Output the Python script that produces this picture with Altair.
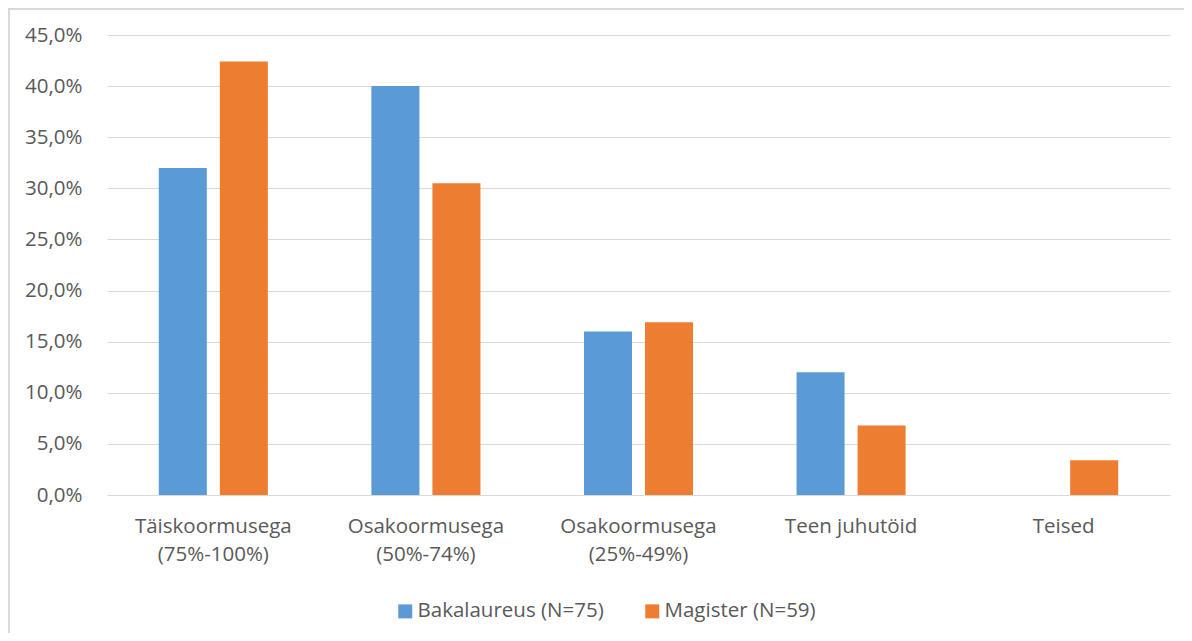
import altair as alt
import pandas as pd

categories = ["Täiskoormusega\n(75%-100%)", "Osakoormusega\n(50%-74%)",
              "Osakoormusega\n(25%-49%)", "Teen juhutöid", "Teised"]
series = ["Bakalaureus (N=75)", "Magister (N=59)"]
bakalaureus = [32.0, 40.0, 16.0, 12.0, 0.0]
magister = [42.4, 30.5, 16.9, 6.8, 3.4]
colors = ["#5B9BD5", "#ED7D31"]
y_ticks = [0, 5, 10, 15, 20, 25, 30, 35, 40, 45]

rows = []
for c, b, m in zip(categories, bakalaureus, magister):
    rows.append({"cat": c, "series": series[0], "value": b})
    rows.append({"cat": c, "series": series[1], "value": m})
df = pd.DataFrame(rows)

FONT = "Open Sans"
FS = 20.5
TEXT = "#595959"
GRID = "#D9D9D9"
W, H = 1063, 460

bars = alt.Chart(df).mark_bar().encode(
    x=alt.X("cat:N", sort=categories, title=None,
            scale=alt.Scale(paddingInner=0.487, paddingOuter=0.2436),
            axis=alt.Axis(labelAngle=0, labelExpr="split(datum.label, '\\n')",
                          labelFont=FONT, labelFontSize=FS, labelColor=TEXT,
                          labelLineHeight=28, labelPadding=21, ticks=False,
                          tickSize=0, domain=False, grid=False, labelLimit=300)),
    xOffset=alt.XOffset("series:N", sort=series,
                        scale=alt.Scale(paddingInner=0.213, paddingOuter=0)),
    y=alt.Y("value:Q", title=None,
            scale=alt.Scale(domain=[0, 45], nice=False, zero=True),
            axis=alt.Axis(values=y_ticks,
                          labelExpr="replace(format(datum.value, '.1f'), '.', ',') + '%'",
                          labelFont=FONT, labelFontSize=FS, labelColor=TEXT,
                          labelPadding=25, ticks=False, tickSize=0, domain=False,
                          grid=True, gridColor=GRID, gridWidth=1)),
    color=alt.Color("series:N", sort=series,
                    scale=alt.Scale(domain=series, range=colors),
                    legend=alt.Legend(title=None, orient="none", legendX=288, legendY=566,
                                      direction="horizontal", symbolType="square",
                                      symbolSize=196, symbolStrokeWidth=0,
                                      labelFont=FONT, labelFontSize=FS, labelColor=TEXT,
                                      labelOffset=2, columnPadding=38, labelLimit=400)),
)

frame_data = alt.Data(values=[{"k": 1}])
left_edge = alt.Chart(frame_data).mark_rule(color=GRID, strokeWidth=2).encode(
    x=alt.value(-98), y=alt.value(-27), y2=alt.value(H + 200))
top_edge = alt.Chart(frame_data).mark_rule(color=GRID, strokeWidth=2).encode(
    x=alt.value(-99), x2=alt.value(W + 200), y=alt.value(-26))

chart = alt.layer(bars, left_edge, top_edge).properties(
    width=W, height=H,
    autosize=alt.AutoSizeParams(type="none"),
    padding={"left": 99, "top": 27, "right": 14, "bottom": 138},
    background="white",
).configure_view(stroke=None)

chart.save("out.html", embed_options={"renderer": "svg", "actions": False})
